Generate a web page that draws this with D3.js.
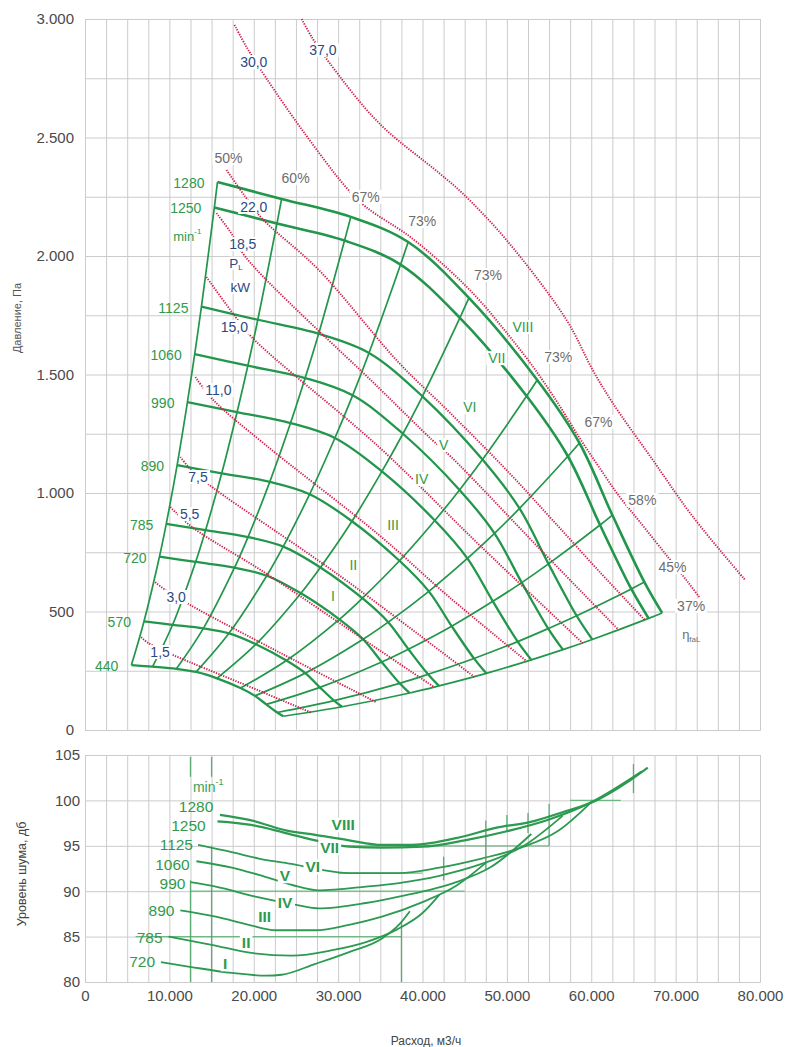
<!doctype html>
<html lang="ru">
<head>
    <meta charset="utf-8"/>
    <title>Fan performance</title>
    <script src="https://d3js.org/d3.v7.min.js"></script>
    <style>
        body { margin: 0; background: #fff; }
        svg text { font-family: "Liberation Sans", Arial, sans-serif; }
        .grid line, .grid path { stroke: #cbcbcb; stroke-width: 1; }
        .axis text { fill: #4a4a4a; font-size: 15px; }
        .axis path, .axis line { display: none; }
    </style>
</head>
<body>
<script>
    // rotation speeds, min-1 (I..VIII for the upper eight)
    const speeds = [440, 570, 720, 785, 890, 990, 1060, 1125, 1250, 1280];
    const romans = ["I", "II", "III", "IV", "V", "VI", "VII", "VIII"];

    // flow (thousand m3/h) where each speed curve meets the ten system lines
    const fanFlow = [
        [5.50, 8.01, 10.83, 13.17, 15.64, 18.43, 20.14, 21.48, 22.79, 23.51],
        [6.99, 10.38, 14.03, 17.06, 20.26, 23.87, 26.10, 27.83, 29.52, 30.46],
        [8.83, 13.11, 17.72, 21.54, 25.59, 30.15, 32.96, 35.16, 37.29, 38.48],
        [9.63, 14.29, 19.32, 23.49, 27.90, 32.87, 35.94, 38.33, 40.66, 41.95],
        [10.92, 16.20, 21.90, 26.63, 31.64, 37.27, 40.75, 43.46, 46.10, 47.56],
        [12.14, 18.02, 24.36, 29.62, 35.19, 41.46, 45.32, 48.34, 51.28, 52.90],
        [13.00, 19.30, 26.09, 31.72, 37.68, 44.39, 48.53, 51.76, 54.90, 56.64],
        [13.80, 20.48, 27.69, 33.66, 39.99, 47.11, 51.50, 54.93, 58.27, 60.12],
        [15.33, 22.75, 30.76, 37.40, 44.43, 52.34, 57.23, 61.04, 64.75, 66.80],
        [15.70, 23.30, 31.50, 38.30, 45.50, 53.60, 58.60, 62.50, 66.30, 68.40]
    ];
    // pressure (Pa) at the same points
    const fanPress = [
        [274, 267, 258, 245, 218, 177, 144, 108, 74, 58],
        [458, 444, 429, 408, 362, 293, 240, 180, 124, 98],
        [732, 709, 685, 651, 577, 467, 383, 287, 197, 156],
        [870, 843, 814, 774, 686, 556, 455, 341, 235, 186],
        [1118, 1083, 1047, 995, 881, 714, 585, 438, 302, 239],
        [1383, 1341, 1295, 1232, 1091, 884, 724, 543, 373, 296],
        [1586, 1537, 1485, 1412, 1250, 1013, 830, 622, 428, 339],
        [1786, 1731, 1672, 1591, 1408, 1141, 935, 701, 482, 382],
        [2205, 2137, 2065, 1964, 1739, 1409, 1155, 865, 595, 471],
        [2312, 2241, 2165, 2059, 1823, 1477, 1211, 907, 624, 494]
    ];
    // efficiency of each system line
    const efficiency = ["50%", "60%", "67%", "73%", "73%", "73%", "67%", "58%", "45%", "37%"];

    // shaft power lines, kW
    const powerKw = ["1,5", "3,0", "5,5", "7,5", "11,0", "15,0", "18,5", "22,0", "30,0", "37,0"];
    const powerFlow = [
        [6.66, 7.49, 10.46, 19.02, 26.87],
        [8.32, 9.51, 12.49, 22.95, 34.48],
        [10.11, 10.70, 12.84, 21.40, 34.84, 41.38],
        [11.30, 12.60, 15.22, 30.08, 46.14],
        [13.08, 15.22, 21.40, 34.84, 43.16, 52.32],
        [14.39, 17.84, 19.74, 34.84, 46.73, 58.98],
        [15.58, 17.24, 19.02, 34.84, 41.14, 43.40, 53.80, 63.14],
        [16.77, 19.02, 20.93, 27.71, 37.22, 43.16, 50.30, 55.41, 61.00, 66.35],
        [17.72, 19.14, 21.40, 25.92, 30.92, 33.29, 38.41, 43.16, 46.73, 49.70, 52.68, 55.65, 58.62, 61.00, 63.38, 65.76, 69.08, 71.46, 72.89],
        [25.68, 26.87, 28.89, 34.84, 41.97, 44.70, 49.94, 57.07, 60.17, 62.54, 67.30, 72.06, 78.24]
    ];
    const powerPress = [
        [392, 367, 316, 190, 72],
        [624, 591, 527, 329, 118],
        [941, 920, 852, 662, 338, 181],
        [1152, 1097, 1021, 654, 224],
        [1489, 1392, 1203, 823, 561, 291],
        [1911, 1743, 1658, 1194, 781, 367],
        [2181, 2101, 1996, 1443, 1224, 1152, 768, 426],
        [2363, 2249, 2160, 1941, 1549, 1342, 1084, 886, 667, 464],
        [2975, 2882, 2755, 2523, 2291, 2207, 2084, 1941, 1814, 1688, 1553, 1401, 1232, 1105, 983, 878, 730, 624, 557],
        [3000, 2924, 2819, 2561, 2350, 2266, 2068, 1730, 1519, 1380, 1139, 899, 633]
    ];

    // noise level curves I..VIII (720..1280 min-1)
    const noiseFlow = [
        [9.0, 12.6, 17.4, 21.4, 23.3, 27.3, 31.3, 35.2, 37.3, 38.5],
        [9.9, 15.0, 19.7, 24.5, 29.3, 33.3, 37.0, 40.0, 42.0],
        [11.3, 15.5, 19.4, 22.6, 27.3, 31.3, 35.2, 40.0, 44.0, 47.6],
        [12.5, 15.5, 20.2, 25.0, 27.7, 33.3, 37.2, 44.0, 48.0, 52.9],
        [13.2, 17.4, 20.6, 25.3, 27.7, 33.3, 37.2, 42.0, 47.0, 52.0, 56.6],
        [13.4, 17.4, 20.6, 24.5, 27.7, 31.3, 37.2, 42.0, 47.0, 52.0, 56.0, 60.1],
        [15.7, 19.7, 23.8, 27.3, 31.3, 35.2, 40.0, 45.0, 50.0, 55.0, 60.0, 66.0],
        [16.0, 19.7, 23.8, 27.3, 31.3, 35.2, 38.8, 44.7, 48.8, 52.7, 56.6, 60.6, 64.6, 66.7]
    ];
    const noiseDb = [
        [82.2, 81.65, 81.0, 80.7, 80.8, 82.0, 83.3, 84.8, 86.4, 87.8],
        [85.0, 84.1, 83.2, 82.9, 83.5, 84.4, 85.8, 87.6, 89.6],
        [87.9, 87.2, 86.3, 85.7, 85.7, 86.3, 87.2, 88.8, 90.6, 93.2],
        [91.0, 90.5, 89.4, 88.5, 88.1, 88.7, 89.4, 91.0, 92.6, 96.3],
        [93.3, 92.6, 91.8, 90.5, 90.1, 90.5, 90.9, 91.7, 93.0, 95.0, 98.3],
        [95.1, 94.3, 93.6, 93.0, 92.4, 92.0, 92.0, 92.6, 93.6, 94.9, 96.6, 99.9],
        [97.7, 97.3, 96.4, 95.6, 94.9, 94.8, 94.9, 95.6, 96.6, 97.9, 99.8, 103.2],
        [98.4, 97.8, 96.7, 96.2, 95.6, 95.1, 95.1, 96.0, 97.0, 97.6, 98.7, 100.0, 102.2, 103.6]
    ];
    // green construction strokes left in the noise panel: [dB, flow from, flow to] and [flow, dB from, dB to]
    const guideH = [[85, 6, 37.5], [90, 12.5, 45], [92, 30, 40], [95, 30, 55], [100, 57.5, 63.5]];
    const guideV = [[12.5, 102.6, 104.8], [15, 102.6, 104.8], [12.5, 80, 91.2], [15, 80, 95],
        [37.5, 80, 86.6], [42.5, 91.2, 93.8], [47.5, 92.4, 97.8], [50, 96.6, 98.4],
        [52.5, 96.4, 98.6], [55, 95, 99.6], [65, 100.8, 104]];

    // ---- layout ----
    const W = 787, H = 1047;
    const svg = d3.select("body").append("svg").attr("width", W).attr("height", H);

    const x = d3.scaleLinear().domain([0, 80]).range([85, 760]);
    const yP = d3.scaleLinear().domain([0, 3000]).range([730, 19]);
    const yN = d3.scaleLinear().domain([80, 105]).range([982, 755]);

    const fmt = d3.formatLocale({decimal: ",", thousands: ".", grouping: [3], currency: ["", ""]}).format(",");
    const green = "#22964a", red = "#cf1f4b";

    // grids
    function grid(yScale, yStep) {
        const [y0, y1] = yScale.domain();
        svg.append("g").attr("class", "grid")
            .attr("transform", "translate(0," + yScale(y0) + ")")
            .call(d3.axisBottom(x).tickValues(d3.range(0, 80.01, 2.5))
                .tickSize(yScale(y1) - yScale(y0)).tickFormat(""));
        svg.append("g").attr("class", "grid")
            .attr("transform", "translate(" + x(0) + ",0)")
            .call(d3.axisRight(yScale).tickValues(d3.range(y0, y1 + 0.01, yStep))
                .tickSize(x(80) - x(0)).tickFormat(""));
    }
    grid(yP, 250);
    grid(yN, 5);

    // axis labels
    svg.append("g").attr("class", "axis").attr("transform", "translate(77,0)")
        .call(d3.axisLeft(yP).tickValues(d3.range(0, 3001, 500)).tickSize(0).tickFormat(fmt));
    svg.append("g").attr("class", "axis").attr("transform", "translate(85,0)")
        .call(d3.axisLeft(yN).tickValues(d3.range(80, 106, 5)).tickSize(0).tickPadding(5));
    svg.append("g").attr("class", "axis").attr("transform", "translate(0,990)")
        .call(d3.axisBottom(x).tickValues(d3.range(0, 81, 10)).tickSize(0).tickPadding(0)
            .tickFormat(d => fmt(d * 1000)));

    svg.append("text").attr("transform", "translate(21,318) rotate(-90)")
        .attr("text-anchor", "middle").attr("font-size", 11).attr("fill", "#555").text("Давление, Па");
    svg.append("text").attr("transform", "translate(26,874) rotate(-90)")
        .attr("text-anchor", "middle").attr("font-size", 12.5).attr("fill", "#444").text("Уровень шума, дб");
    svg.append("text").attr("x", 426).attr("y", 1045)
        .attr("text-anchor", "middle").attr("font-size", 12).attr("fill", "#444").text("Расход, м3/ч");

    // ---- upper panel: fan field ----
    const lineP = d3.line().x(d => x(d[0])).y(d => yP(d[1])).curve(d3.curveCatmullRom.alpha(0.5));
    const upper = svg.append("g");

    // system lines (columns of the grid)
    const cols = d3.range(10).map(j => speeds.map((s, i) => [fanFlow[i][j], fanPress[i][j]]));
    upper.selectAll("path.sys").data(cols).enter().append("path").attr("class", "sys")
        .attr("d", lineP).attr("fill", "none").attr("stroke", green).attr("stroke-width", 1.7);

    // speed curves (rows)
    const rows = speeds.map((s, i) => fanFlow[i].map((q, j) => [q, fanPress[i][j]]));
    upper.selectAll("path.rpm").data(rows).enter().append("path").attr("class", "rpm")
        .attr("d", lineP).attr("fill", "none").attr("stroke", green)
        .attr("stroke-width", (d, i) => i >= 8 ? 2.6 : 2.3);

    // power lines
    const pLines = powerKw.map((k, i) => powerFlow[i].map((q, j) => [q, powerPress[i][j]]));
    upper.selectAll("path.pow").data(pLines).enter().append("path").attr("class", "pow")
        .attr("d", lineP).attr("fill", "none").attr("stroke", red)
        .attr("stroke-width", 1.9).attr("stroke-dasharray", "1.3 1.3");

    // label with white box behind
    function boxed(g, px, py, txt, color, size, weight) {
        const grp = g.append("g");
        const t = grp.append("text").attr("x", px).attr("y", py)
            .attr("text-anchor", "middle").attr("dominant-baseline", "central")
            .attr("font-size", size).attr("font-weight", weight || "normal").attr("fill", color).text(txt);
        const b = t.node().getBBox();
        grp.insert("rect", "text").attr("x", b.x - 2).attr("y", b.y + 1)
            .attr("width", b.width + 4).attr("height", b.height - 2).attr("fill", "#fff");
        return t;
    }

    // speed labels at the left end of each curve
    speeds.forEach((s, i) => {
        upper.append("text").attr("x", x(fanFlow[i][0]) - 13).attr("y", yP(fanPress[i][0]) + 1)
            .attr("text-anchor", "end").attr("dominant-baseline", "central")
            .attr("font-size", 14).attr("fill", "#2f9a4d").text(s);
    });
    const minTop = upper.append("text").attr("x", x(fanFlow[8][0]) - 13).attr("y", yP(fanPress[8][0]) + 29)
        .attr("text-anchor", "end").attr("dominant-baseline", "central")
        .attr("font-size", 13).attr("fill", "#2f9a4d").text("min");
    minTop.append("tspan").attr("baseline-shift", "super").attr("font-size", 8).text("-1");

    // power labels (data units)
    const powerLabelQ = [8.9, 10.8, 12.4, 13.4, 15.8, 17.7, 18.7, 20.0, 20.0, 28.2];
    const powerLabelP = [329, 561, 911, 1067, 1434, 1700, 2050, 2207, 2818, 2869];
    powerKw.forEach((k, i) => boxed(upper, x(powerLabelQ[i]), yP(powerLabelP[i]), k, "#2c4a82", 14));
    const pl = boxed(upper, x(17.9), yP(1970), "P", "#2c4a82", 13.5);
    pl.append("tspan").attr("baseline-shift", "sub").attr("font-size", 8).text("L");
    boxed(upper, x(18.4), yP(1868), "kW", "#2c4a82", 13.5);

    // efficiency labels above each system line
    const effDx = [11, 14, 15, 14, 19, 21, 19, 30, 28, 29];
    const effDy = [-24, -21, -20, -21, -23, -23, -21, -15, -15, -7];
    efficiency.forEach((e, j) => boxed(upper, x(fanFlow[9][j]) + effDx[j], yP(fanPress[9][j]) + effDy[j], e, "#6e6e6e", 14));
    const eta = upper.append("text").attr("x", x(fanFlow[9][9]) + 20).attr("y", yP(fanPress[9][9]) + 22)
        .attr("dominant-baseline", "central").attr("font-size", 13).attr("fill", "#6e6e6e").text("η");
    eta.append("tspan").attr("baseline-shift", "sub").attr("font-size", 8).text("faL");

    // roman numerals on the upper panel
    const romanTopQ = [29.4, 31.8, 36.5, 39.9, 42.5, 45.6, 48.8, 51.9];
    const romanTopP = [565, 696, 865, 1059, 1202, 1363, 1569, 1700];
    romans.forEach((r, i) => boxed(upper, x(romanTopQ[i]), yP(romanTopP[i]), r, "#2f9a4d", 14));

    // ---- lower panel: noise ----
    const low = svg.append("g");
    const lineN = d3.line().x(d => x(d[0])).y(d => yN(d[1])).curve(d3.curveMonotoneX);

    low.selectAll("line.gh").data(guideH).enter().append("line").attr("class", "gh")
        .attr("x1", d => x(d[1])).attr("x2", d => x(d[2])).attr("y1", d => yN(d[0])).attr("y2", d => yN(d[0]))
        .attr("stroke", "#4aa865").attr("stroke-width", 1.3).attr("opacity", 0.75);
    low.selectAll("line.gv").data(guideV).enter().append("line").attr("class", "gv")
        .attr("x1", d => x(d[0])).attr("x2", d => x(d[0])).attr("y1", d => yN(d[1])).attr("y2", d => yN(d[2]))
        .attr("stroke", "#3f9f5c").attr("stroke-width", 1.3).attr("opacity", 0.8);

    const nLines = romans.map((r, i) => noiseFlow[i].map((q, j) => [q, noiseDb[i][j]]));
    low.selectAll("path.noise").data(nLines).enter().append("path").attr("class", "noise")
        .attr("d", lineN).attr("fill", "none").attr("stroke", "#2c9a50")
        .attr("stroke-width", (d, i) => i >= 6 ? 2.2 : 1.8);

    // speed labels
    const noiseLabelQ = [8.3, 9.2, 10.6, 11.9, 12.4, 12.8, 14.3, 15.2];
    const noiseLabelDb = [82.3, 84.95, 87.9, 90.8, 92.9, 95.1, 97.2, 99.3];
    speeds.slice(2).forEach((s, i) => {
        low.append("text").attr("x", x(noiseLabelQ[i])).attr("y", yN(noiseLabelDb[i]))
            .attr("text-anchor", "end").attr("dominant-baseline", "central")
            .attr("font-size", 15.5).attr("fill", "#2f9a4d").text(s);
    });
    const minLow = low.append("text").attr("x", x(14.6)).attr("y", yN(101.5))
        .attr("text-anchor", "middle").attr("dominant-baseline", "central")
        .attr("font-size", 14).attr("fill", "#3aa057").text("min");
    minLow.append("tspan").attr("baseline-shift", "super").attr("font-size", 9).text("-1");

    const romanLowQ = [16.6, 19.1, 21.3, 23.7, 23.7, 27.0, 29.0, 30.6];
    const romanLowDb = [82.0, 84.4, 87.2, 88.8, 91.7, 92.7, 94.8, 97.3];
    romans.forEach((r, i) => boxed(low, x(romanLowQ[i]), yN(romanLowDb[i]), r, "#2f9a4d", 15.5, "bold"));
</script>
</body>
</html>
